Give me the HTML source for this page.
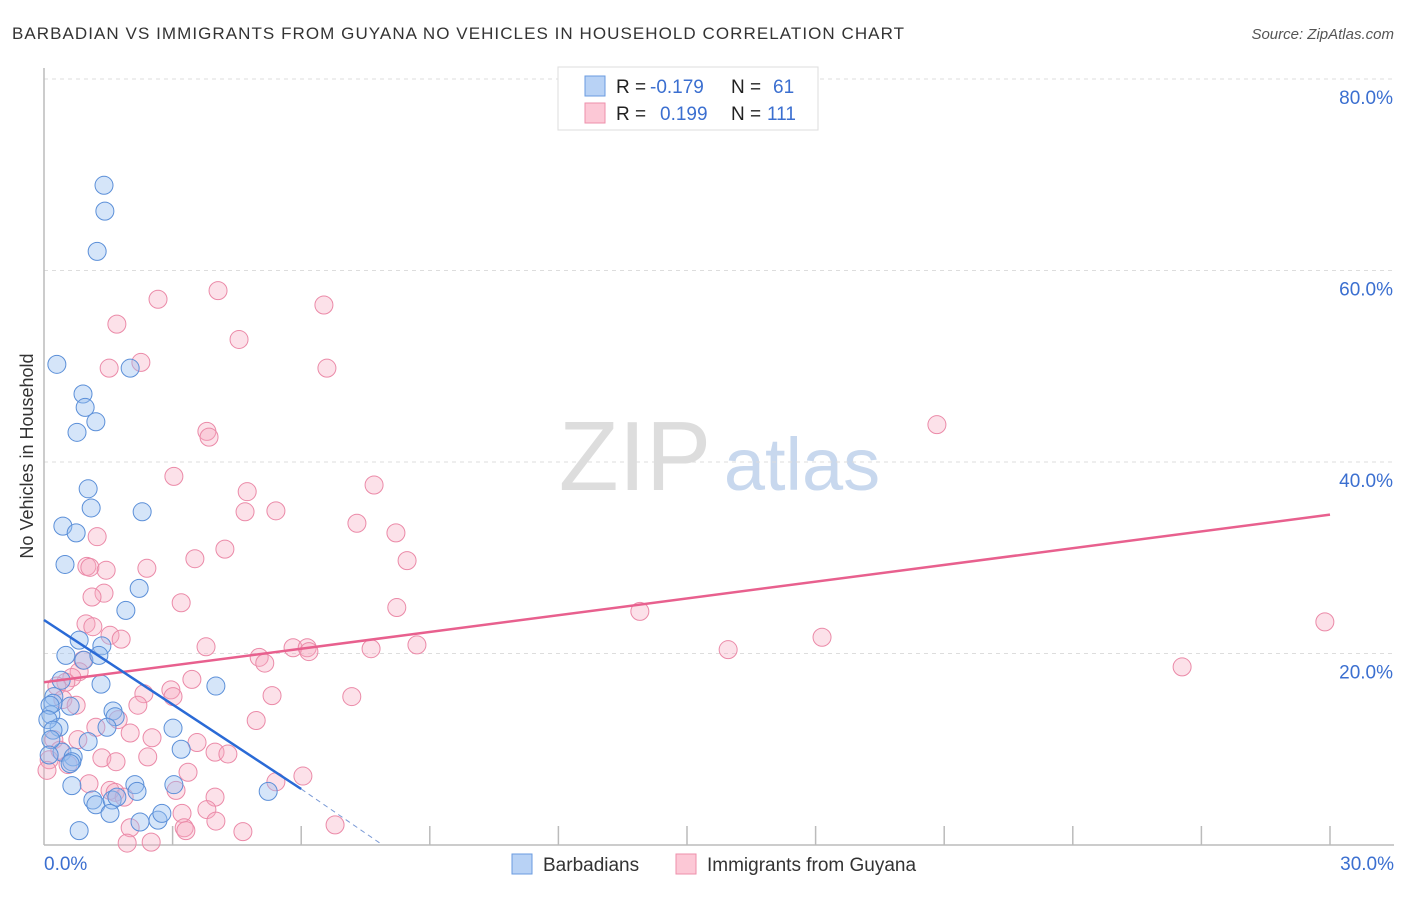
<!DOCTYPE html>
<html><head><meta charset="utf-8"><style>
body{margin:0;background:#fff;font-family:"Liberation Sans",sans-serif;}
svg text{font-family:"Liberation Sans",sans-serif;}
</style></head><body>
<svg id="c" width="1406" height="892">
<text x="12" y="39" font-size="17" fill="#333" textLength="892" lengthAdjust="spacing">BARBADIAN VS IMMIGRANTS FROM GUYANA NO VEHICLES IN HOUSEHOLD CORRELATION CHART</text>
<text x="1394" y="39" font-size="15" fill="#555" font-style="italic" text-anchor="end">Source: ZipAtlas.com</text>
<text x="33" y="456" font-size="18" fill="#333" text-anchor="middle" transform="rotate(-90 33 456)">No Vehicles in Household</text>
<text x="635" y="490" font-size="98" fill="#ddd" text-anchor="middle" font-family="Liberation Serif">ZIP</text>
<text x="802" y="490" font-size="74" fill="#c8d8ee" text-anchor="middle">atlas</text>
<g id="grid"></g><g id="pts"></g><g id="lines"></g>
<g>
<rect x="558" y="67" width="260" height="63" fill="#fff" stroke="#ddd"/>
<rect x="585" y="76" width="20" height="20" fill="#b8d2f5" stroke="#6a9be0"/>
<rect x="585" y="103" width="20" height="20" fill="#fcc8d6" stroke="#ee8fab"/>
<text x="616" y="93" font-size="19" fill="#222">R = </text><text x="650" y="93" font-size="19" fill="#3b6fd0">-0.179</text>
<text x="731" y="93" font-size="19" fill="#222">N = </text><text x="773" y="93" font-size="19" fill="#3b6fd0">61</text>
<text x="616" y="120" font-size="19" fill="#222">R = </text><text x="660" y="120" font-size="19" fill="#3b6fd0">0.199</text>
<text x="731" y="120" font-size="19" fill="#222">N = </text><text x="767" y="120" font-size="19" fill="#3b6fd0">111</text>
</g>
<g>
<rect x="512" y="854" width="20" height="20" fill="#b8d2f5" stroke="#6a9be0"/>
<text x="543" y="871" font-size="19" fill="#333">Barbadians</text>
<rect x="676" y="854" width="20" height="20" fill="#fcc8d6" stroke="#ee8fab"/>
<text x="707" y="871" font-size="19" fill="#333">Immigrants from Guyana</text>
</g>
</svg>
<script>
const yTicks=[20,40,60,80];
const xTickCount=10;
const blueX=[1.40,1.42,1.24,0.30,2.01,0.91,0.96,1.21,0.77,1.03,1.10,2.29,0.44,0.75,0.49,2.22,1.91,0.82,1.35,0.51,0.93,1.28,1.33,4.01,0.40,0.23,0.61,0.21,1.61,1.66,0.16,1.47,3.01,0.35,1.03,3.20,0.42,0.68,0.65,0.61,0.65,1.14,1.21,1.59,1.70,2.12,2.17,3.03,5.23,1.54,2.24,2.66,2.75,0.82,0.14,0.09,0.21,0.16,0.12];
const blueY=[68.9,66.2,62.0,50.2,49.8,47.1,45.7,44.2,43.1,37.2,35.2,34.8,33.3,32.6,29.3,26.8,24.5,21.4,20.8,19.8,19.3,19.8,16.8,16.6,17.2,15.5,14.5,14.8,14.0,13.4,13.6,12.3,12.2,12.3,10.8,10.0,9.7,9.2,8.7,8.5,6.2,4.7,4.2,4.7,5.0,6.3,5.6,6.3,5.6,3.3,2.4,2.6,3.3,1.5,14.6,13.1,12.0,11.0,9.4];
const pinkX=[1.70,2.66,4.06,6.53,4.55,2.26,1.52,6.60,20.83,3.80,3.85,3.03,7.70,4.74,4.69,5.41,7.30,8.21,1.24,4.22,3.52,8.47,1.00,1.07,2.40,1.45,1.40,1.12,3.20,8.23,13.90,0.98,1.14,29.88,1.54,1.80,18.15,3.78,5.81,6.14,6.18,7.63,8.70,15.96,5.02,5.15,26.55,0.91,0.82,0.65,0.51,3.45,2.33,2.96,3.01,5.32,7.18,0.30,0.44,0.75,2.19,4.95,1.21,1.73,2.01,2.52,0.79,3.57,3.99,4.29,2.42,1.35,1.68,0.23,0.37,0.12,0.07,0.56,3.36,6.04,5.41,1.05,1.54,1.66,3.08,1.87,3.99,3.80,3.22,4.01,2.01,3.27,3.31,4.64,6.79,2.50,1.94];
const pinkY=[54.4,57.0,57.9,56.4,52.8,50.4,49.8,49.8,43.9,43.2,42.6,38.5,37.6,36.9,34.8,34.9,33.6,32.6,32.2,30.9,29.9,29.7,29.1,29.0,28.9,28.7,26.3,25.9,25.3,24.8,24.4,23.1,22.8,23.3,21.9,21.5,21.7,20.7,20.6,20.6,20.2,20.5,20.9,20.4,19.6,19.0,18.6,19.3,18.1,17.5,17.0,17.3,15.8,16.2,15.5,15.6,15.5,16.6,15.2,14.6,14.6,13.0,12.3,13.1,11.7,11.2,11.0,10.7,9.7,9.5,9.2,9.1,8.7,11.0,9.9,8.9,7.8,8.4,7.6,7.2,6.6,6.4,5.7,5.5,5.7,5.0,5.0,3.7,3.3,2.5,1.8,1.8,1.5,1.4,2.1,0.3,0.2];
const blueTrend=[[0,23.5],[6.0,5.85],[7.9,0]];
const pinkTrend=[[0,17.0],[30,34.5]];
const NS='http://www.w3.org/2000/svg';
const X=v=>44+v*(1286/30), Y=v=>845-v*9.575;
function mk(t,a,p){const e=document.createElementNS(NS,t);for(const k in a)e.setAttribute(k,a[k]);p.appendChild(e);return e;}
const g=document.getElementById('grid');
yTicks.forEach(t=>{
 const l=mk('line',{x1:44,x2:1394,y1:Y(t),y2:Y(t),stroke:'#ddd','stroke-dasharray':'4,4'},g);
 
 
 const tx=mk('text',{x:1393,y:Y(t)+25,'font-size':19,fill:'#3b6fd0','text-anchor':'end'},g);tx.textContent=t.toFixed(1)+'%';
 
 
});
mk('line',{x1:44,x2:44,y1:68,y2:845,stroke:'#bbb','stroke-width':1.5},g);
mk('line',{x1:44,x2:1394,y1:845,y2:845,stroke:'#bbb','stroke-width':1.5},g);
for(let i=1;i<=xTickCount;i++){const tk=mk('line',{x1:X(i*3),x2:X(i*3),y1:826,y2:845,stroke:'#bbb','stroke-width':1.5},g);
 
 }
let a=mk('text',{x:44,y:870,'font-size':19,fill:'#3b6fd0'},g);a.textContent='0.0%';


a=mk('text',{x:1394,y:870,'font-size':19,fill:'#3b6fd0','text-anchor':'end'},g);a.textContent='30.0%';


const p=document.getElementById('pts');
pinkX.forEach((v,i)=>{const c=mk('circle',{cx:X(v),cy:Y(pinkY[i]),r:9,fill:'rgba(246,170,192,0.35)',stroke:'#eb8aa8','stroke-width':1},p);
 
 });
blueX.forEach((v,i)=>{const c=mk('circle',{cx:X(v),cy:Y(blueY[i]),r:9,fill:'rgba(150,190,240,0.4)',stroke:'#5b8fd8','stroke-width':1},p);
 
 });
const L=document.getElementById('lines');
let t=mk('line',{x1:X(pinkTrend[0][0]),y1:Y(pinkTrend[0][1]),x2:X(pinkTrend[1][0]),y2:Y(pinkTrend[1][1]),stroke:'#e8608e','stroke-width':2.5},L);


t=mk('line',{x1:X(blueTrend[0][0]),y1:Y(blueTrend[0][1]),x2:X(blueTrend[1][0]),y2:Y(blueTrend[1][1]),stroke:'#2a6ad6','stroke-width':2.5},L);


t=mk('line',{x1:X(blueTrend[1][0]),y1:Y(blueTrend[1][1]),x2:X(blueTrend[2][0]),y2:Y(blueTrend[2][1]),stroke:'#7a9ad6','stroke-width':1,'stroke-dasharray':'5,4'},L);


</script>
</body></html>
